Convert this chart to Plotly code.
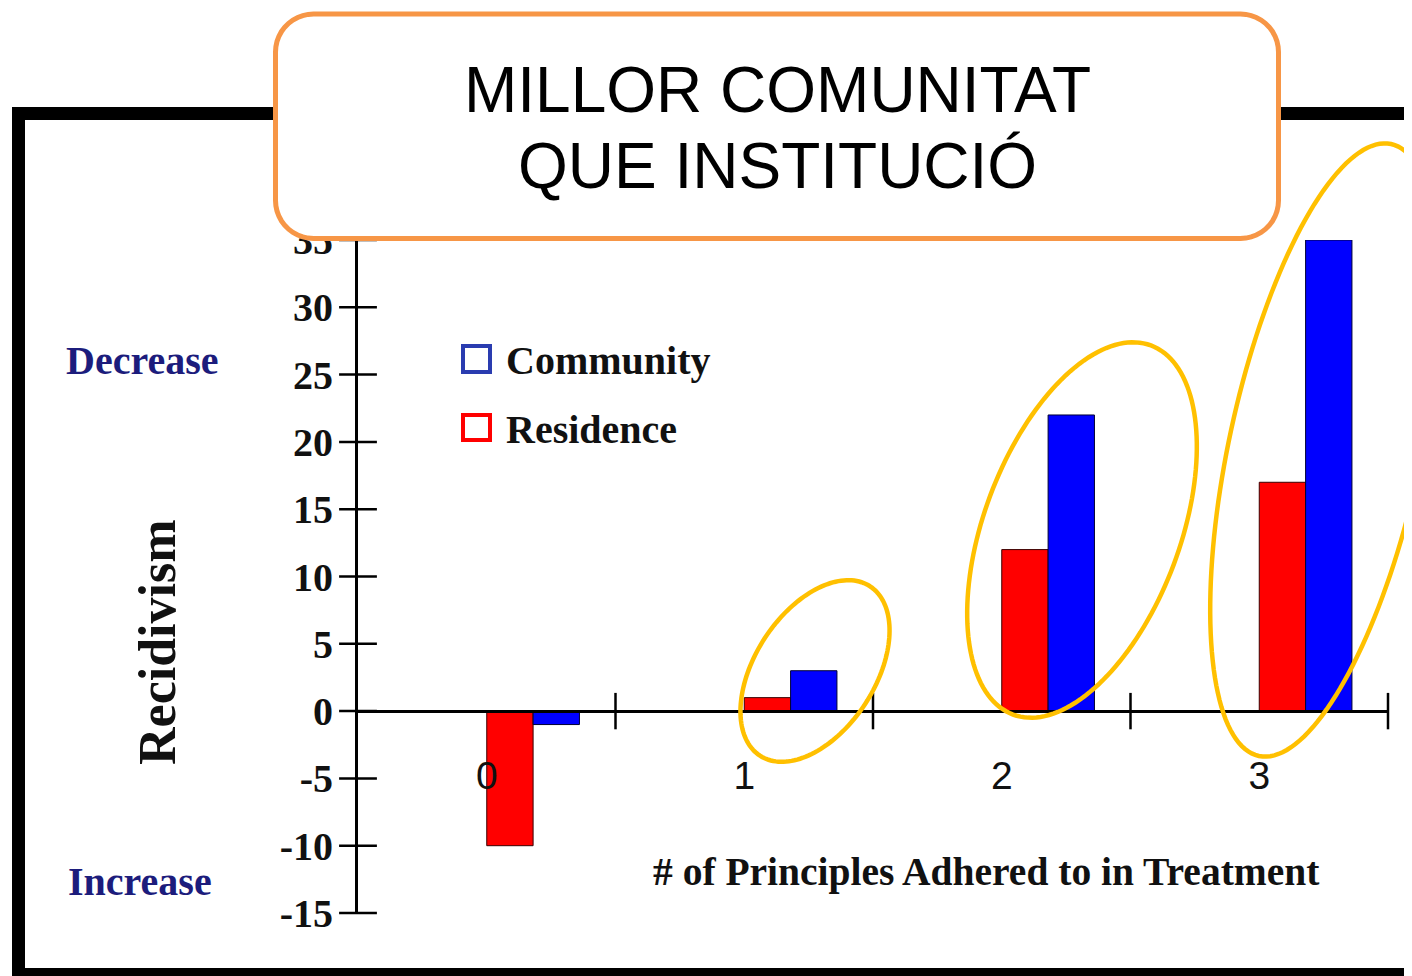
import numpy as np
import plotly.graph_objects as go

# ---------------- data ----------------
categories = [0, 1, 2, 3]
x_tick_labels = ["0", "1", "2", "3"]
series_names = ["Community", "Residence"]
community = [-1, 3, 22, 35]
residence = [-10, 1, 12, 17]
y_tick_values = [-15, -10, -5, 0, 5, 10, 15, 20, 25, 30, 35]
y_tick_labels = ["-15", "-10", "-5", "0", "5", "10", "15", "20", "25", "30", "35"]
title_lines = ["MILLOR COMUNITAT", "QUE INSTITUCIÓ"]
x_title = "# of Principles Adhered to in Treatment"
y_title = "Recidivism"
side_labels = ["Decrease", "Increase"]

# ---------------- geometry helpers ----------------
W, H = 1412, 976
OFF = 8  # page body margin offset
# plot area in screen pixels
SX0, SX1, SY0, SY1 = 358, 1388, 240, 913
ML = SX0 - OFF
MT = SY0 - OFF
MR = W - (SX1 - OFF)
MB = H - (SY1 - OFF)
PW = SX1 - SX0
PH = SY1 - SY0
y_range = [-15, 35]
x_range = [-0.5, 3.5]


def px(x):
    return (x - SX0) / PW


def py(y):
    return (SY1 - y) / PH


def ellipse_path(cx, cy, a, b, phi_deg, n=160):
    phi = np.radians(phi_deg)
    t = np.linspace(0, 2 * np.pi, n, endpoint=False)
    xs = cx + a * np.cos(t) * np.cos(phi) - b * np.sin(t) * np.sin(phi)
    ys = cy - (a * np.cos(t) * np.sin(phi) + b * np.sin(t) * np.cos(phi))
    pts = [f"{px(x):.5f},{py(y):.5f}" for x, y in zip(xs, ys)]
    return "M" + " L".join(pts) + " Z"


def rounded_rect_path(x0, y0, x1, y1, r, n=12):
    pts = []
    corners = [
        (x1 - r, y0 + r, -90, 0),
        (x1 - r, y1 - r, 0, 90),
        (x0 + r, y1 - r, 90, 180),
        (x0 + r, y0 + r, 180, 270),
    ]
    for cx, cy, a0, a1 in corners:
        for ang in np.linspace(np.radians(a0), np.radians(a1), n):
            pts.append((cx + r * np.cos(ang), cy + r * np.sin(ang)))
    s = [f"{px(x):.5f},{py(y):.5f}" for x, y in pts]
    return "M" + " L".join(s) + " Z"


SERIF = "Liberation Serif"
SANS = "Liberation Sans"

fig = go.Figure()

# bars
fig.add_bar(
    x=categories, y=residence, name=series_names[1], width=0.18, offset=0,
    marker=dict(color="#FF0000", line=dict(color="#3a0000", width=1)),
    showlegend=False,
)
fig.add_bar(
    x=categories, y=community, name=series_names[0], width=0.18, offset=0.18,
    marker=dict(color="#0000FF", line=dict(color="#000033", width=1)),
    showlegend=False,
)

# crossing tick marks on the x axis (category boundaries) and y axis
boundaries = [c + 0.5 for c in categories]
fig.add_scatter(
    x=boundaries, y=[0] * len(boundaries), mode="markers",
    marker=dict(symbol="line-ns", size=26, line=dict(width=2.5, color="black")),
    cliponaxis=False, hoverinfo="skip", showlegend=False,
)
fig.add_scatter(
    x=[x_range[0]] * len(y_tick_values), y=y_tick_values, mode="markers",
    marker=dict(symbol="line-ew", size=27, line=dict(width=2.5, color="black")),
    cliponaxis=False, hoverinfo="skip", showlegend=False,
)

zero_pos = (0 - y_range[0]) / (y_range[1] - y_range[0])

fig.update_layout(
    template="none",
    width=W, height=H,
    margin=dict(l=ML, r=MR, t=MT, b=MB, pad=0),
    paper_bgcolor="white", plot_bgcolor="white",
    barmode="overlay",
    showlegend=False,
    xaxis=dict(
        range=x_range, anchor="free", position=zero_pos,
        showline=True, linecolor="black", linewidth=3,
        tickmode="array", tickvals=categories, ticktext=x_tick_labels,
        ticks="", ticklabelstandoff=29,
        tickfont=dict(family=SANS, size=39, color="#111"),
        showgrid=False, zeroline=False, automargin=False,
    ),
    yaxis=dict(
        range=y_range, domain=[0, 1],
        showline=True, linecolor="black", linewidth=3,
        tickmode="array", tickvals=y_tick_values, ticktext=y_tick_labels,
        ticks="", ticklabelstandoff=14,
        tickfont=dict(family=SERIF, size=40, color="#111", weight="bold"),
        showgrid=False, zeroline=False, automargin=False,
    ),
)

shapes = []
# outer black frame
shapes.append(dict(type="rect", xref="paper", yref="paper",
                   x0=px(18.5), x1=px(1430), y0=py(113.5), y1=py(974.5),
                   line=dict(color="black", width=13), layer="above"))
shapes.append(dict(type="line", xref="paper", yref="paper",
                   x0=px(1410.5), x1=px(1410.5), y0=py(120), y1=py(968),
                   line=dict(color="#9a9a9a", width=1.5), layer="above"))
# legend squares
shapes.append(dict(type="rect", xref="paper", yref="paper",
                   x0=px(463), x1=px(490), y0=py(346), y1=py(372),
                   line=dict(color="#2a3cb0", width=4), layer="above"))
shapes.append(dict(type="rect", xref="paper", yref="paper",
                   x0=px(463), x1=px(490), y0=py(415), y1=py(440),
                   line=dict(color="#FF0000", width=4), layer="above"))
# yellow ellipses
for cx, cy, a, b, phi in [(815, 671, 101, 60, 57), (1082, 530, 197, 98, 69.5),
                          (1325, 450, 313, 96, 77.8)]:
    shapes.append(dict(type="path", xref="paper", yref="paper",
                       path=ellipse_path(cx, cy, a, b, phi),
                       line=dict(color="#FFC000", width=4.5), layer="above"))
# orange title box
shapes.append(dict(type="path", xref="paper", yref="paper",
                   path=rounded_rect_path(275.5, 14, 1278.5, 238.5, 38),
                   fillcolor="white", line=dict(color="#F79646", width=5),
                   layer="above"))
fig.update_layout(shapes=shapes)

ann = []
navy = "#1c1c7c"
ann.append(dict(text=f"<b>{side_labels[0]}</b>", x=px(142), y=py(360),
                font=dict(family=SERIF, size=40, color=navy)))
ann.append(dict(text=f"<b>{side_labels[1]}</b>", x=px(140), y=py(881),
                font=dict(family=SERIF, size=40, color=navy)))
ann.append(dict(text=f"<b>{y_title}</b>", x=px(157), y=py(642), textangle=-90,
                font=dict(family=SERIF, size=52, color="#111")))
ann.append(dict(text=f"<b>{x_title}</b>", x=px(986), y=py(872),
                font=dict(family=SERIF, size=39.5, color="#111")))
ann.append(dict(text=f"<b>{series_names[0]}</b>", x=px(504), y=py(360), xanchor="left",
                font=dict(family=SERIF, size=40, color="#111")))
ann.append(dict(text=f"<b>{series_names[1]}</b>", x=px(504), y=py(429), xanchor="left",
                font=dict(family=SERIF, size=40, color="#111")))
ann.append(dict(text=title_lines[0], x=px(777), y=py(90),
                font=dict(family=SANS, size=64, color="black")))
ann.append(dict(text=title_lines[1], x=px(777), y=py(166),
                font=dict(family=SANS, size=64, color="black")))
for a_ in ann:
    a_.setdefault("xanchor", "center")
    a_.update(xref="paper", yref="paper", yanchor="middle", showarrow=False)
fig.update_layout(annotations=ann)

fig.write_html("out.html")
